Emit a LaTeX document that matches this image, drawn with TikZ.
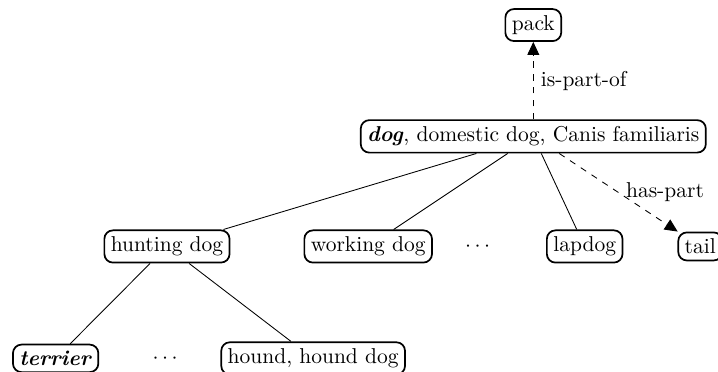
\documentclass[tikz,border=0pt]{standalone}
\usepackage{tikz}
\usetikzlibrary{arrows.meta, positioning}

\begin{document}
\begin{tikzpicture}[
  synset/.style={rectangle, draw=black, thick, rounded corners=4pt, inner sep=3pt},
  gap/.style={inner sep=3pt},
  hypo/.style={draw},
  relation/.style={draw, dashed, -{Triangle[length=6pt, width=5.5pt]}},
]
  \useasboundingbox (0,0) rectangle (11.74,6.07);

  % ── Root synset ────────────────────────────
  \node[synset] (dog) at (8.72,3.84) {\textbf{\textit{dog}}, domestic dog, Canis familiaris};
  \node[synset] (pack) at (8.72,5.66) {pack};

  % ── Hyponyms ───────────────────────────────
  \node[synset] (hunting) at (2.73,2.04) {hunting dog};
  \node[synset] (working) at (6.02,2.04) {working dog};
  \node[gap] (dotsA) at (7.81,2.04) {$\cdots$};
  \node[synset] (lapdog) at (9.56,2.04) {lapdog};
  \node[synset] (tail) at (11.45,2.04) {tail};

  \node[synset] (terrier) at (0.91,0.21) {\textbf{\textit{terrier}}};
  \node[gap] (dotsB) at (2.70,0.21) {$\cdots$};
  \node[synset] (hound) at (5.12,0.21) {hound, hound dog};

  % ── Connections ────────────────────────────
  \draw[hypo] (dog) -- (hunting);
  \draw[hypo] (dog) -- (working);
  \draw[hypo] (dog) -- (lapdog);
  \draw[hypo] (hunting) -- (terrier);
  \draw[hypo] (hunting) -- (hound);
  \draw[relation] (dog) -- node[right] {is-part-of} (pack);
  \draw[relation] (dog) -- node[right] {has-part} (tail);

\end{tikzpicture}
\end{document}
